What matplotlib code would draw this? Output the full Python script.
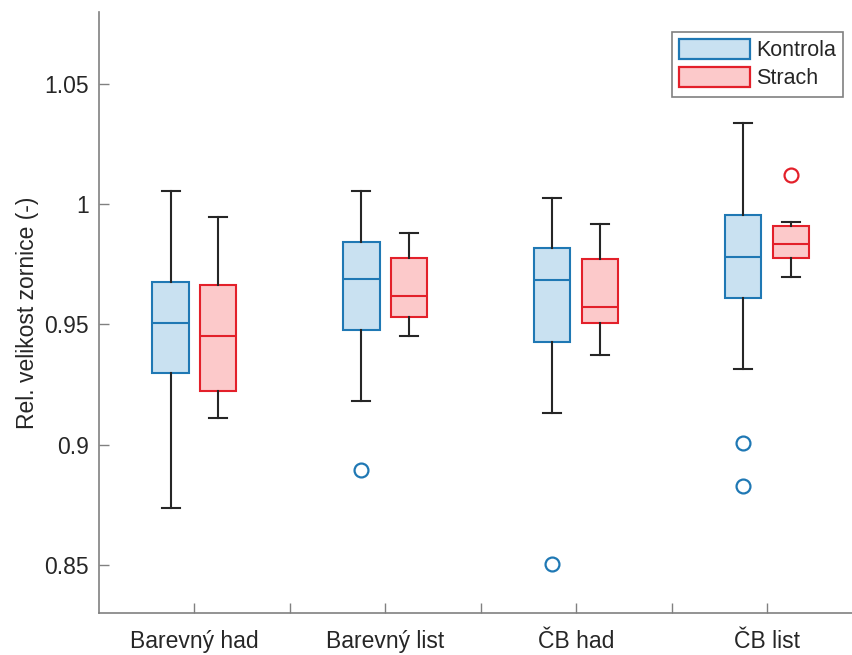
import matplotlib
matplotlib.use("Agg")
import matplotlib.pyplot as plt
from matplotlib.patches import Patch

plt.rcParams["font.family"] = ["Liberation Sans", "DejaVu Sans"]

CATEGORIES = ["Barevný had", "Barevný list", "ČB had", "ČB list"]
GROUPS = ["Kontrola", "Strach"]

# per category: (whislo, q1, med, q3, whishi)
KONTROLA = [(0.8735, 0.930, 0.9508, 0.9676, 1.0055),
            (0.9182, 0.9478, 0.9688, 0.9844, 1.0055),
            (0.9132, 0.9426, 0.9684, 0.9818, 1.0025),
            (0.9314, 0.961, 0.978, 0.9954, 1.0337)]
KONTROLA_OUT = [[], [0.8893], [0.8505], [0.9009, 0.8827]]

STRACH = [(0.911, 0.9222, 0.945, 0.9662, 0.9946),
          (0.945, 0.9532, 0.9618, 0.9776, 0.988),
          (0.9372, 0.9504, 0.9573, 0.9774, 0.9918),
          (0.9698, 0.9778, 0.9835, 0.9909, 0.9928)]
STRACH_OUT = [[], [], [], [1.0122]]

EDGE = {"Kontrola": "#1f78b4", "Strach": "#e3202a"}
FILL = {"Kontrola": "#c9e1f1", "Strach": "#fcc9ca"}
OFFSET = {"Kontrola": -0.125, "Strach": 0.125}
AXCOL = "#808080"
TXTCOL = "#262626"


def to_stats(rows, outs):
    return [dict(whislo=r[0], q1=r[1], med=r[2], q3=r[3], whishi=r[4], fliers=o)
            for r, o in zip(rows, outs)]


fig = plt.figure(figsize=(8.53, 6.55), dpi=100)
ax = fig.add_axes([0.116, 0.064, 0.884, 0.918])

for name, rows, outs in [("Kontrola", KONTROLA, KONTROLA_OUT), ("Strach", STRACH, STRACH_OUT)]:
    pos = [i + 1 + OFFSET[name] for i in range(len(CATEGORIES))]
    ec = EDGE[name]
    ax.bxp(to_stats(rows, outs), positions=pos, widths=0.19, patch_artist=True,
           boxprops=dict(facecolor=FILL[name], edgecolor=ec, lw=1.5),
           medianprops=dict(color=ec, lw=1.5),
           whiskerprops=dict(color=TXTCOL, lw=1.5),
           capprops=dict(color=TXTCOL, lw=1.5),
           capwidths=0.094,
           flierprops=dict(marker="o", markerfacecolor="none", markeredgecolor=ec,
                           markersize=10, markeredgewidth=1.6),
           manage_ticks=False)

ax.set_xlim(0.5, 4.45)
ax.set_ylim(0.83, 1.08)
ax.set_xticks([1, 1.5, 2, 2.5, 3, 3.5, 4])
ax.set_xticklabels([CATEGORIES[0], "", CATEGORIES[1], "", CATEGORIES[2], "", CATEGORIES[3]])
ax.set_yticks([0.85, 0.9, 0.95, 1.0, 1.05])
ax.set_yticklabels(["0.85", "0.9", "0.95", "1", "1.05"])
ax.tick_params(direction="in", length=7, width=1, colors=AXCOL, labelcolor=TXTCOL,
               labelsize=16.5)
ax.tick_params(axis="y", pad=7)
ax.tick_params(axis="x", pad=12)
ax.set_ylabel("Rel. velikost zornice (-)", fontsize=16.5, color=TXTCOL, labelpad=4)

for s in ["top", "right"]:
    ax.spines[s].set_visible(False)
for s in ["left", "bottom"]:
    ax.spines[s].set_color(AXCOL)
    ax.spines[s].set_linewidth(1.2)

handles = [Patch(facecolor=FILL[g], edgecolor=EDGE[g], lw=1.6, label=g) for g in GROUPS]
leg = ax.legend(handles=handles, loc="upper right", bbox_to_anchor=(0.987, 0.967),
                fontsize=15.5, fancybox=False, framealpha=1, edgecolor=AXCOL,
                handlelength=3.3, handleheight=1.05, handletextpad=0.25,
                labelspacing=0.25, borderpad=0.35, borderaxespad=0)
leg.get_frame().set_linewidth(1.2)
for t in leg.get_texts():
    t.set_color(TXTCOL)

fig.savefig("out.png", dpi=100)
